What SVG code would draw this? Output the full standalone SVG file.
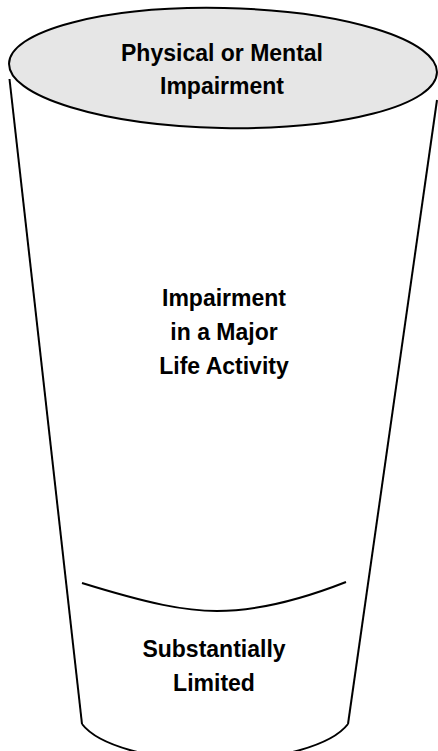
<svg xmlns="http://www.w3.org/2000/svg" width="438" height="751" viewBox="0 0 438 751">
<style>
.ln{fill:none;stroke:#000;stroke-width:2}
.t{font-family:"Liberation Sans",Arial,sans-serif;font-weight:bold;font-size:23px;text-anchor:middle;fill:#000}
</style>
<rect width="438" height="751" fill="#fff"/>
<g id="cup">
<path class="ln" d="M9.5,79 L82,724"/>
<path class="ln" d="M437,100 L348,724"/>
<path class="ln" d="M82,724 A138 50 0 0 0 348,724"/>
</g>
<g id="top-ellipse">
<ellipse cx="223" cy="68" rx="214" ry="60" transform="rotate(1.2 223 68)" fill="#e6e6e6" stroke="#000" stroke-width="2"/>
<text class="t" x="222" y="61">Physical or Mental</text>
<text class="t" x="222" y="94">Impairment</text>
</g>
<g id="middle">
<text class="t" x="224" y="306">Impairment</text>
<text class="t" x="224" y="340">in a Major</text>
<text class="t" x="224" y="374">Life Activity</text>
</g>
<g id="bottom">
<path class="ln" d="M82,583 C150,604 185,611 217,611 C255,611 295,602 346,582"/>
<text class="t" x="214" y="657">Substantially</text>
<text class="t" x="214" y="691">Limited</text>
</g>
</svg>
